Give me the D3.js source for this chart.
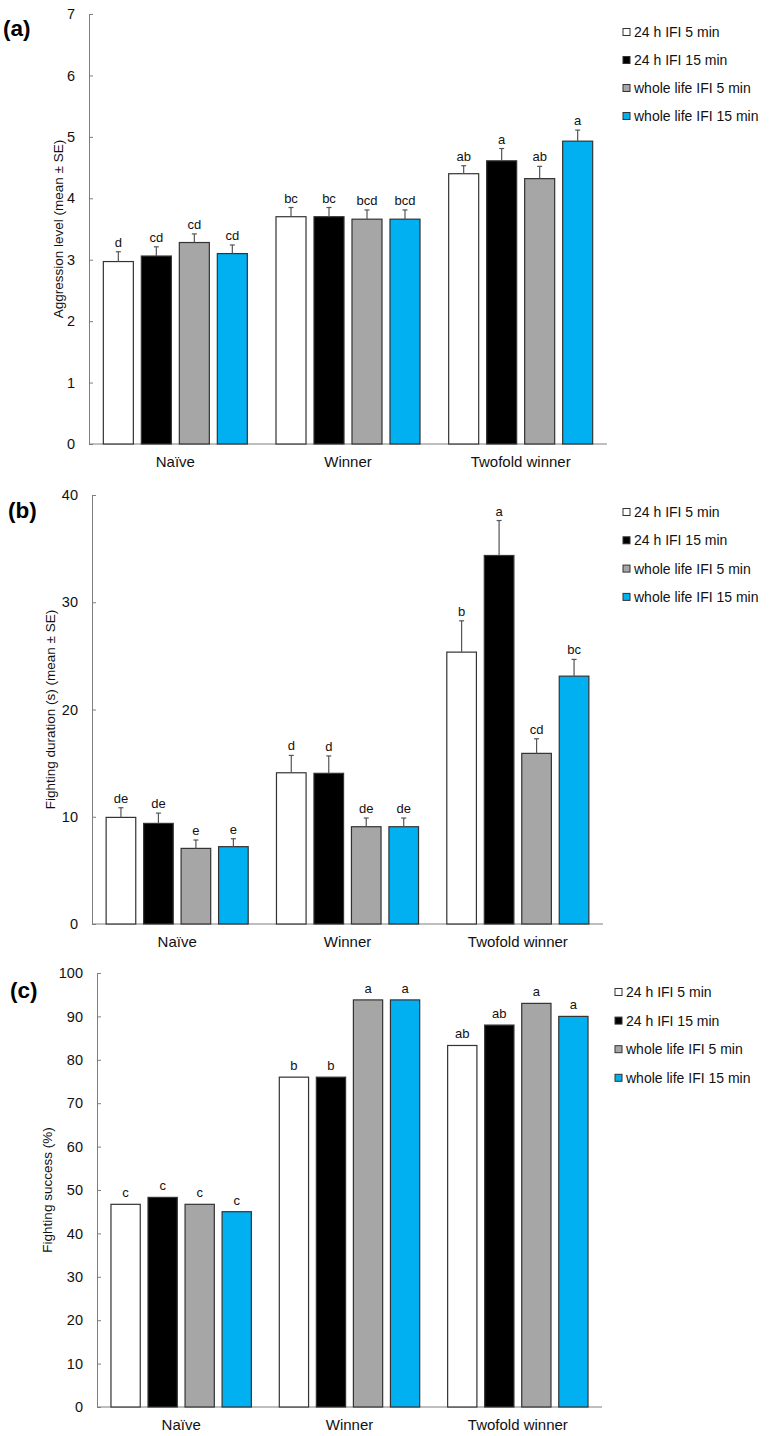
<!DOCTYPE html>
<html><head><meta charset="utf-8">
<script src="https://cdn.jsdelivr.net/npm/d3@7"></script>
<style>
html,body{margin:0;padding:0;background:#fff;}
svg{display:block;font-family:"Liberation Sans",Arial,sans-serif;}
</style></head>
<body>
<svg id="chart" width="775" height="1436"></svg>
<script>
const categories = ["Naïve", "Winner", "Twofold winner"];
const seriesNames = ["24 h IFI 5 min", "24 h IFI 15 min", "whole life IFI 5 min", "whole life IFI 15 min"];
const seriesColors = ["#ffffff", "#000000", "#a6a6a6", "#00b0f0"];

// (a) Aggression level
const aggrMean = [[2.97, 3.70, 4.40], [3.06, 3.70, 4.61], [3.28, 3.66, 4.32], [3.10, 3.66, 4.93]];
const aggrSE = [[0.16, 0.15, 0.13], [0.15, 0.15, 0.20], [0.14, 0.15, 0.20], [0.14, 0.15, 0.18]];
const aggrLetters = [["d", "bc", "ab"], ["cd", "bc", "a"], ["cd", "bcd", "ab"], ["cd", "bcd", "a"]];
const aggrTicks = [0, 1, 2, 3, 4, 5, 6, 7];

// (b) Fighting duration
const durMean = [[9.94, 14.10, 25.35], [9.38, 14.05, 34.36], [7.05, 9.07, 15.91], [7.21, 9.07, 23.11]];
const durSE = [[0.90, 1.62, 2.92], [0.96, 1.62, 3.26], [0.78, 0.81, 1.36], [0.74, 0.81, 1.56]];
const durLetters = [["de", "d", "b"], ["de", "d", "a"], ["e", "de", "cd"], ["e", "de", "bc"]];
const durTicks = [0, 10, 20, 30, 40];

// (c) Fighting success
const succMean = [[46.7, 76.0, 83.3], [48.3, 76.0, 88.0], [46.7, 93.8, 93.0], [45.0, 93.8, 90.0]];
const succLetters = [["c", "b", "ab"], ["c", "b", "ab"], ["c", "a", "a"], ["c", "a", "a"]];
const succTicks = [0, 10, 20, 30, 40, 50, 60, 70, 80, 90, 100];

const svg = d3.select("#chart");

function panel(cfg) {
  const g = svg.append("g");
  const x0 = d3.scaleBand().domain(categories).range([cfg.left, cfg.right]).paddingInner(0.166).paddingOuter(0.083);
  const x1 = d3.scaleBand().domain(d3.range(seriesNames.length)).range([0, x0.bandwidth()]).paddingInner(0.21).paddingOuter(0);
  const y = d3.scaleLinear().domain([0, cfg.max]).range([cfg.bottom, cfg.top]);

  // y axis
  const ax = g.append("g").attr("transform", `translate(${cfg.left},0)`)
    .call(d3.axisLeft(y).tickValues(cfg.ticks).tickSize(-4).tickSizeOuter(0).tickPadding(14).tickFormat(d3.format("d")));
  ax.select(".domain").attr("stroke", "#7f7f7f");
  ax.selectAll(".tick line").attr("stroke", "#7f7f7f");
  ax.selectAll(".tick text").attr("font-size", 14.5).attr("fill", "#111").attr("font-family", "Liberation Sans, Arial, sans-serif");

  // x axis line
  g.append("line").attr("x1", cfg.left).attr("x2", cfg.right).attr("y1", y(0)).attr("y2", y(0))
    .attr("stroke", "#7f7f7f").attr("stroke-width", 1);

  // bars
  seriesNames.forEach((s, si) => {
    categories.forEach((c, ci) => {
      const v = cfg.mean[si][ci];
      const bx = x0(c) + x1(si);
      const bw = x1.bandwidth();
      g.append("rect").attr("x", bx).attr("y", y(v)).attr("width", bw).attr("height", y(0) - y(v))
        .attr("fill", seriesColors[si]).attr("stroke", "#333").attr("stroke-width", 1.2);
      let topY = y(v);
      if (cfg.se) {
        const e = y(v + cfg.se[si][ci]);
        const cx = bx + bw / 2;
        g.append("line").attr("x1", cx).attr("x2", cx).attr("y1", y(v)).attr("y2", e).attr("stroke", "#555").attr("stroke-width", 1.2);
        g.append("line").attr("x1", cx - 2.5).attr("x2", cx + 2.5).attr("y1", e).attr("y2", e).attr("stroke", "#555").attr("stroke-width", 1.2);
        topY = e;
      }
      g.append("text").attr("x", bx + bw / 2).attr("y", topY - cfg.letterGap).attr("text-anchor", "middle")
        .attr("font-size", 13).attr("fill", "#111").text(cfg.letters[si][ci]);
    });
  });

  // category labels
  categories.forEach(c => {
    g.append("text").attr("x", x0(c) + x0.bandwidth() / 2).attr("y", y(0) + 23).attr("text-anchor", "middle")
      .attr("font-size", 15).attr("fill", "#111").text(c);
  });

  // y title
  g.append("text").attr("transform", `translate(${cfg.titleX},${(cfg.top + cfg.bottom) / 2}) rotate(-90)`)
    .attr("text-anchor", "middle").attr("dy", "0.35em").attr("font-size", 13.5).attr("fill", "#111").text(cfg.title);

  // panel label
  g.append("text").attr("x", cfg.labX).attr("y", cfg.labY).attr("font-size", 22.5).attr("font-weight", "bold")
    .attr("fill", "#000").text(cfg.label);

  // legend
  seriesNames.forEach((s, si) => {
    const ly = cfg.legY + si * cfg.legStep;
    g.append("rect").attr("x", cfg.legX).attr("y", ly - 3.5).attr("width", 7).attr("height", 7)
      .attr("fill", seriesColors[si]).attr("stroke", "#333").attr("stroke-width", 1);
    g.append("text").attr("x", cfg.legX + 11).attr("y", ly).attr("dy", "0.35em").attr("font-size", 14)
      .attr("fill", "#111").text(s);
  });
}

panel({left: 89, right: 607, top: 14, bottom: 444, max: 7, ticks: aggrTicks,
  mean: aggrMean, se: aggrSE, letters: aggrLetters, letterGap: 5,
  title: "Aggression level (mean ± SE)", titleX: 58, label: "(a)", labX: 3, labY: 36,
  legX: 623, legY: 32, legStep: 28});

panel({left: 92, right: 603, top: 495, bottom: 924, max: 40, ticks: durTicks,
  mean: durMean, se: durSE, letters: durLetters, letterGap: 5,
  title: "Fighting duration (s) (mean ± SE)", titleX: 50, label: "(b)", labX: 8, labY: 518,
  legX: 623, legY: 512, legStep: 28.3});

panel({left: 97, right: 602, top: 973, bottom: 1407, max: 100, ticks: succTicks,
  mean: succMean, se: null, letters: succLetters, letterGap: 7,
  title: "Fighting success (%)", titleX: 47, label: "(c)", labX: 10, labY: 998,
  legX: 615, legY: 992, legStep: 28.6});
</script>
</body></html>
